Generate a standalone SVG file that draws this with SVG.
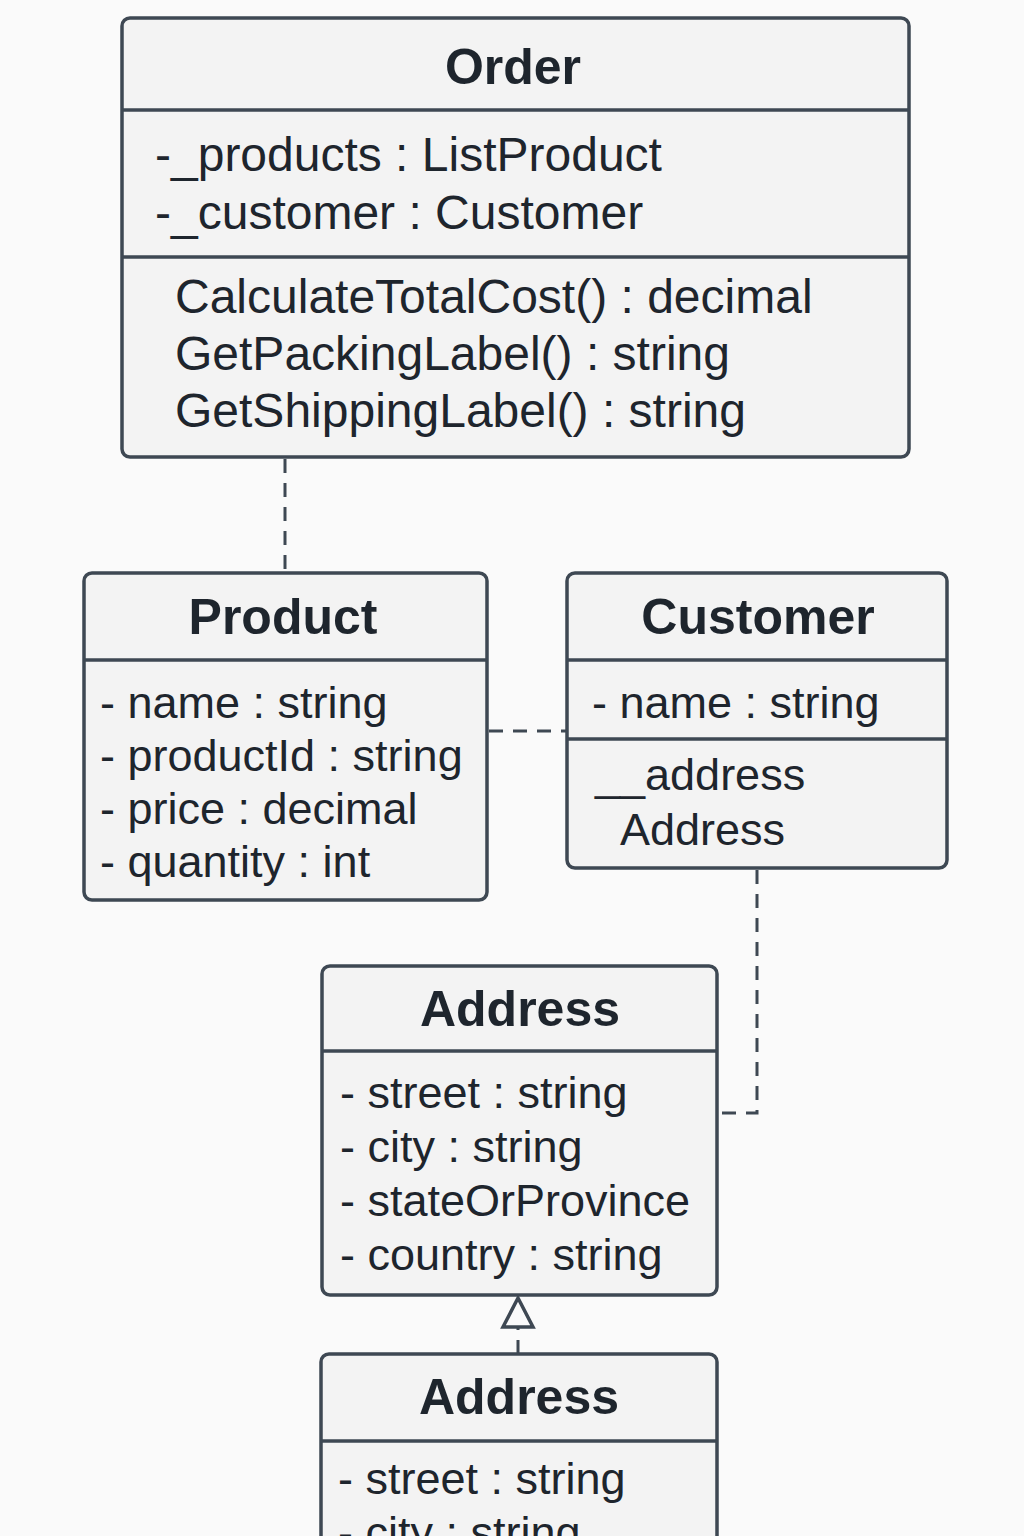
<svg xmlns="http://www.w3.org/2000/svg" width="1024" height="1536" viewBox="0 0 1024 1536">
<style>
.box{fill:#f3f3f3;stroke:#3e4853;stroke-width:3.5}
.div{stroke:#3e4853;stroke-width:3.5}
.t{font-family:"Liberation Sans",Arial,sans-serif;fill:#1e252d}
.h{font-size:50px;font-weight:bold;text-anchor:middle}
.a{font-size:45px}
.o{font-size:48px}
.c{fill:none;stroke:#3e4853;stroke-width:3;stroke-dasharray:14,10}
</style>
<rect width="1024" height="1536" fill="#fafafa"/>
<g id="connectors">
<path class="c" d="M285,459 V573"/>
<path class="c" d="M489,731 H567"/>
<path class="c" d="M757,870 V1113 H719"/>
<path class="c" d="M518,1354 V1328"/>
<polygon points="518,1298 503,1327 533,1327" fill="#fafafa" stroke="#3e4853" stroke-width="3.5"/>
</g>
<g id="order">
<rect class="box" x="122" y="18" width="787" height="439" rx="8"/>
<line class="div" x1="122" y1="110" x2="909" y2="110"/>
<line class="div" x1="122" y1="257" x2="909" y2="257"/>
<text class="t h" x="513" y="84">Order</text>
<text class="t o" x="155" y="171">-_products : ListProduct</text>
<text class="t o" x="155" y="229">-_customer : Customer</text>
<text class="t o" x="175" y="313">CalculateTotalCost() : decimal</text>
<text class="t o" x="175" y="370">GetPackingLabel() : string</text>
<text class="t o" x="175" y="427">GetShippingLabel() : string</text>
</g>
<g id="product">
<rect class="box" x="84" y="573" width="403" height="327" rx="8"/>
<line class="div" x1="84" y1="660" x2="487" y2="660"/>
<text class="t h" x="283" y="634">Product</text>
<text class="t a" x="100" y="718">- name : string</text>
<text class="t a" x="100" y="771">- productId : string</text>
<text class="t a" x="100" y="824">- price : decimal</text>
<text class="t a" x="100" y="877">- quantity : int</text>
</g>
<g id="customer">
<rect class="box" x="567" y="573" width="380" height="295" rx="8"/>
<line class="div" x1="567" y1="660" x2="947" y2="660"/>
<line class="div" x1="567" y1="739" x2="947" y2="739"/>
<text class="t h" x="758" y="634">Customer</text>
<text class="t a" x="592" y="718">- name : string</text>
<text class="t a" x="595" y="790">__address</text>
<text class="t a" x="620" y="845">Address</text>
</g>
<g id="address">
<rect class="box" x="322" y="966" width="395" height="329" rx="8"/>
<line class="div" x1="322" y1="1051" x2="717" y2="1051"/>
<text class="t h" x="520" y="1026">Address</text>
<text class="t a" x="340" y="1108">- street : string</text>
<text class="t a" x="340" y="1162">- city : string</text>
<text class="t a" x="340" y="1216">- stateOrProvince</text>
<text class="t a" x="340" y="1270">- country : string</text>
</g>
<g id="address2">
<rect class="box" x="321" y="1354" width="396" height="260" rx="8"/>
<line class="div" x1="321" y1="1441" x2="717" y2="1441"/>
<text class="t h" x="519" y="1414">Address</text>
<text class="t a" x="338" y="1494">- street : string</text>
<text class="t a" x="338" y="1548">- city : string</text>
</g>
</svg>
